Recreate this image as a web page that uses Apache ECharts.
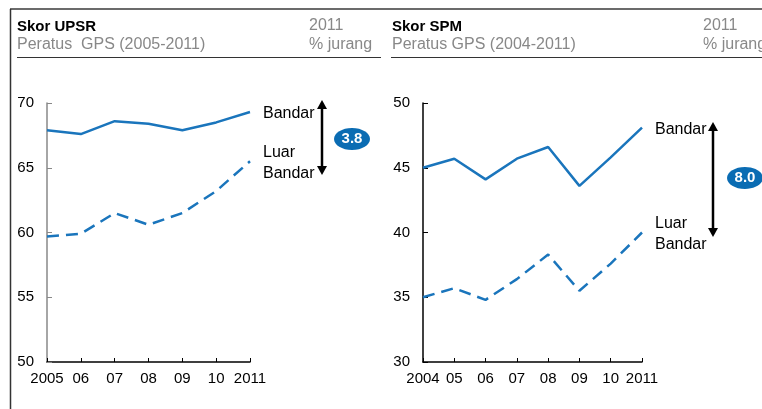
<!DOCTYPE html>
<html><head><meta charset="utf-8">
<script src="https://cdn.jsdelivr.net/npm/echarts@6/dist/echarts.min.js"></script>
<style>html,body{margin:0;padding:0;background:#fff}#c{width:762px;height:409px}</style>
</head><body><div id="c"></div>
<script>
const upsrYears = ['2005','06','07','08','09','10','2011'];
const upsrBandar = [67.9, 67.6, 68.6, 68.4, 67.9, 68.5, 69.3];
const upsrLuar = [59.7, 59.9, 61.5, 60.6, 61.5, 63.2, 65.5];
const spmYears = ['2004','05','06','07','08','09','10','2011'];
const spmBandar = [45.0, 45.7, 44.1, 45.7, 46.6, 43.6, 45.8, 48.1];
const spmLuar = [35.0, 35.7, 34.8, 36.4, 38.3, 35.5, 37.6, 40.0];
const gapUpsr = '3.8';
const gapSpm = '8.0';

const FONT = 'Liberation Sans, Arial, sans-serif';
const BLUE = '#1a75bc';
const chart = echarts.init(document.getElementById('c'), null, {renderer:'canvas'});

function xAxis(idx, data){
  return {type:'category', gridIndex:idx, data:data, boundaryGap:false,
    axisLine:{lineStyle:{color:'#000', width:1.5}},
    axisTick:{inside:true, length:4, lineStyle:{color:'#000'}},
    axisLabel:{color:'#000', fontSize:15, fontFamily:FONT, margin:9, interval:0}};
}
function yAxis(idx, min, max, lineColor){
  return {type:'value', gridIndex:idx, min:min, max:max, interval:5,
    splitLine:{show:false},
    axisLine:{show:true, lineStyle:{color:lineColor, width:1.5}},
    axisTick:{show:true, inside:true, length:5, lineStyle:{color:lineColor}},
    axisLabel:{color:'#000', fontSize:15, fontFamily:FONT, margin:13}};
}
function series(idx, data, dashed, label){
  return {type:'line', xAxisIndex:idx, yAxisIndex:idx, data:data, symbol:'none', silent:true,
    lineStyle:{color:BLUE, width:2.5, type: dashed ? [12,7] : 'solid'},
    endLabel:{show:true, formatter:label, color:'#000', fontSize:16, fontFamily:FONT, distance:13, lineHeight:21, offset:[0,2]}};
}
function arrow(x, y1, y2){
  return [
    {type:'line', shape:{x1:x, y1:y1+6, x2:x, y2:y2-6}, style:{stroke:'#000', lineWidth:2.5}},
    {type:'polygon', shape:{points:[[x,y1],[x-5,y1+9],[x+5,y1+9]]}, style:{fill:'#000'}},
    {type:'polygon', shape:{points:[[x,y2],[x-5,y2-9],[x+5,y2-9]]}, style:{fill:'#000'}}
  ];
}
function badge(cx, cy, txt){
  return [
    {type:'ellipse', shape:{cx:cx, cy:cy, rx:18, ry:11}, style:{fill:'#0a6cb3'}},
    {type:'text', x:cx, y:cy, style:{text:txt, fill:'#fff', font:'bold 15px '+FONT, align:'center', verticalAlign:'middle'}}
  ];
}
function txt(x, y, t, color, bold){
  return {type:'text', x:x, y:y, style:{text:t, fill:color, font:(bold?'bold 15px ':'16px ')+FONT, verticalAlign:'middle'}};
}

chart.setOption({
  animation:false,
  grid:[
    {left:47, top:103, width:203, height:259},
    {left:423, top:103, width:219, height:259}
  ],
  xAxis:[xAxis(0, upsrYears), xAxis(1, spmYears)],
  yAxis:[yAxis(0, 50, 70, '#888'), yAxis(1, 30, 50, '#000')],
  series:[
    series(0, upsrBandar, false, 'Bandar'),
    series(0, upsrLuar, true, 'Luar\nBandar'),
    series(1, spmBandar, false, 'Bandar'),
    series(1, spmLuar, true, 'Luar\nBandar')
  ],
  graphic:[].concat(
    [
      {type:'line', shape:{x1:10, y1:9, x2:762, y2:9}, style:{stroke:'#6b6b6b', lineWidth:2}},
      {type:'line', shape:{x1:10.5, y1:9, x2:10.5, y2:409}, style:{stroke:'#333', lineWidth:1.5}},
      {type:'line', shape:{x1:17, y1:57.5, x2:381, y2:57.5}, style:{stroke:'#333', lineWidth:1}},
      {type:'line', shape:{x1:391, y1:57.5, x2:762, y2:57.5}, style:{stroke:'#333', lineWidth:1}},
      txt(17, 27, 'Skor UPSR', '#000', true),
      txt(17, 45, 'Peratus  GPS (2005-2011)', '#888', false),
      txt(309, 26, '2011', '#888', false),
      txt(309, 45, '% jurang', '#888', false),
      txt(392, 27, 'Skor SPM', '#000', true),
      txt(392, 45, 'Peratus GPS (2004-2011)', '#888', false),
      txt(703, 26, '2011', '#888', false),
      txt(703, 45, '% jurang', '#888', false)
    ],
    arrow(322, 100, 175), badge(352, 139, gapUpsr),
    arrow(713, 122, 237), badge(745, 178, gapSpm)
  )
});
</script></body></html>
